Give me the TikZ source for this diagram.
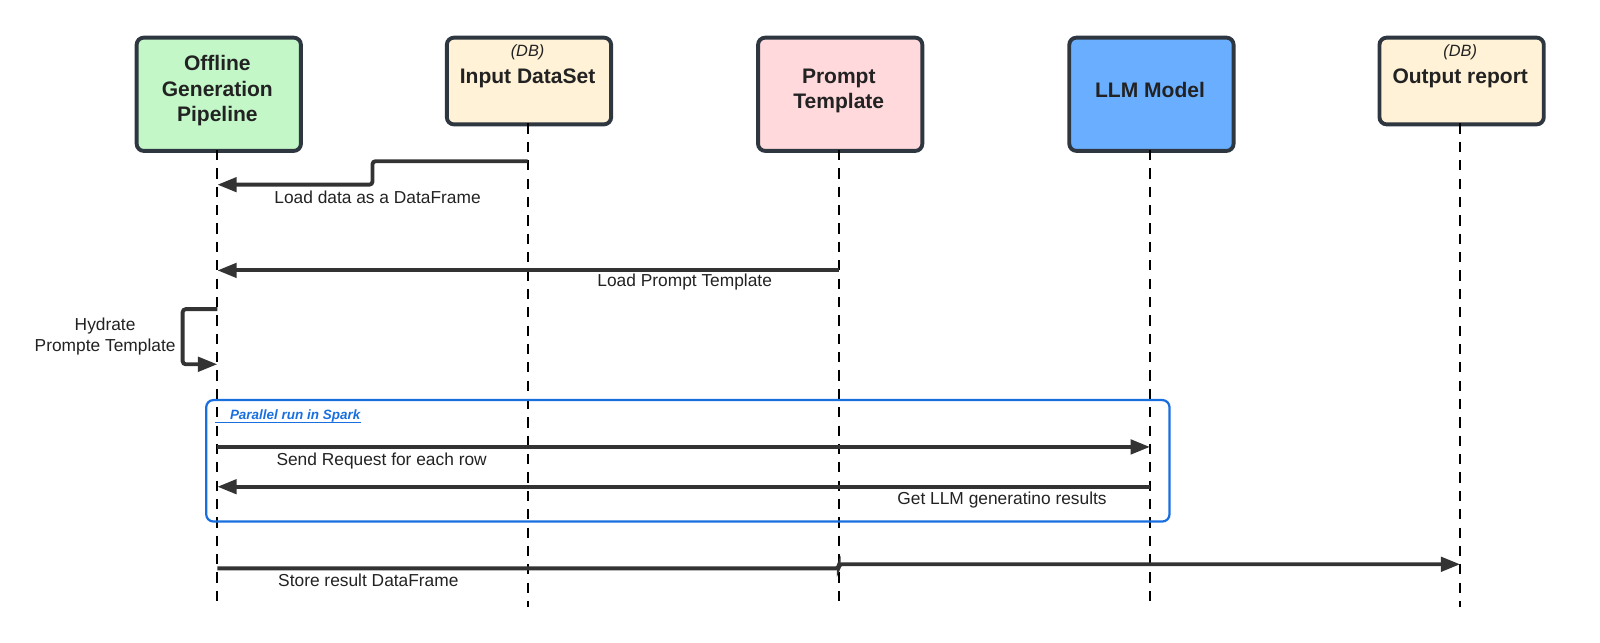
\documentclass[tikz,border=0pt]{standalone}
\usepackage{fontspec}
\setmainfont{Liberation Sans}
\usetikzlibrary{arrows.meta}
\definecolor{edgec}{HTML}{2E3640}
\definecolor{linec}{HTML}{333333}
\definecolor{greenf}{HTML}{C3F7C8}
\definecolor{creamf}{HTML}{FFF2D6}
\definecolor{pinkf}{HTML}{FFD9DC}
\definecolor{bluef}{HTML}{6AAFFF}
\definecolor{sparkc}{HTML}{1A6FE0}
\definecolor{textc}{HTML}{222222}
\tikzset{
  actor/.style={draw=edgec, line width=1.9pt, rounded corners=3.5pt, minimum width=80.5pt, anchor=north west, inner sep=0pt},
  tallbox/.style={actor, minimum height=55.5pt},
  shortbox/.style={actor, minimum height=42.5pt},
  title/.style={font=\bfseries\fontsize{10.3}{12.5}\selectfont, align=center, text=textc, inner sep=0pt},
  dbtag/.style={font=\itshape\fontsize{8}{9.6}\selectfont, text=textc, inner sep=0pt},
  life/.style={draw=black, line width=1pt, dash pattern=on 5pt off 4pt},
  msg/.style={draw=linec, line width=1.9pt, -{Triangle[length=9.5pt,width=7pt]}, rounded corners=1.5pt},
  lbl/.style={font=\fontsize{8.5}{10.5}\selectfont, text=textc, inner sep=0pt, align=center},
}
\begin{document}
\begin{tikzpicture}[x=0.5pt, y=-0.5pt]
\useasboundingbox (0,0) rectangle (1568,629.2);
% actor boxes
\node[tallbox, fill=greenf] (off) at (132,35) {};
\node[shortbox, fill=creamf] (inp) at (436,35) {};
\node[tallbox, fill=pinkf] (pro) at (741,35) {};
\node[tallbox, fill=bluef] (llm) at (1046,35) {};
\node[shortbox, fill=creamf] (outp) at (1350,35) {};
% titles
\node[title] (offT) at (213,89) {Offline\\Generation\\Pipeline};
\node[dbtag] (inpD) at (517,51) {(DB)};
\node[title] (inpT) at (517,77) {Input DataSet};
\node[title] (proT) at (822,89) {Prompt\\Template};
\node[title] (llmT) at (1127,88) {LLM Model};
\node[dbtag] (outD) at (1431,51) {(DB)};
\node[title] (outT) at (1431,77) {Output report};
% lifeline ends
\coordinate (offE) at (213,595);
\coordinate (inpE) at (517,595);
\coordinate (proE) at (822,595);
\coordinate (llmE) at (1127,595);
\coordinate (outE) at (1431,595);
\draw[life] (213,147) -- (offE);
\draw[life] (517,121) -- (inpE);
\draw[life] (822,147) -- (proE);
\draw[life] (1127,147) -- (llmE);
\draw[life] (1431,121) -- (outE);
% spark box
\node[draw=sparkc, line width=1.1pt, rounded corners=3.5pt, minimum width=472pt, minimum height=59.5pt, anchor=north west, inner sep=0pt] (spark) at (201,391) {};
\node[font=\bfseries\itshape\fontsize{6.6}{8}\selectfont, text=sparkc, inner sep=0pt, anchor=west] (sparkT) at (225,408) {Parallel run in Spark};
\coordinate (ulA) at (211,414);
\draw[sparkc, line width=0.5pt] (ulA) -- (ulA -| sparkT.east);
% message points
\coordinate (m1s) at (517,158);
\coordinate (m1e) at (213,181);
\coordinate (m2s) at (822,265);
\coordinate (m2e) at (213,265);
\coordinate (m3s) at (213,303);
\coordinate (m3e) at (213,357);
\coordinate (m4s) at (213,438);
\coordinate (m4e) at (1127,438);
\coordinate (m5s) at (1127,477);
\coordinate (m5e) at (213,477);
\coordinate (m6s) at (213,557);
\coordinate (m6e) at (1431,553);
% messages
\draw[msg] (m1s) -| (365,181) -- (m1e);
\node[lbl] (l1) at (370,193) {Load data as a DataFrame};
\draw[msg] (m2s) -- (m2e);
\node[lbl] (l2) at (671,276) {Load Prompt Template};
\draw[msg] (m3s) -| (179,357) -- (m3e);
\node[lbl] (l3) at (103,330) {Hydrate\\Prompte Template};
\draw[msg] (m4s) -- (m4e);
\node[lbl] (l4) at (374,452) {Send Request for each row};
\draw[msg] (m5s) -- (m5e);
\node[lbl] (l5) at (982,490) {Get LLM generatino results};
\draw[msg] (m6s) -| (822,553) -- (m6e);
\node[lbl] (l6) at (361,569) {Store result DataFrame};
\end{tikzpicture}
\end{document}
